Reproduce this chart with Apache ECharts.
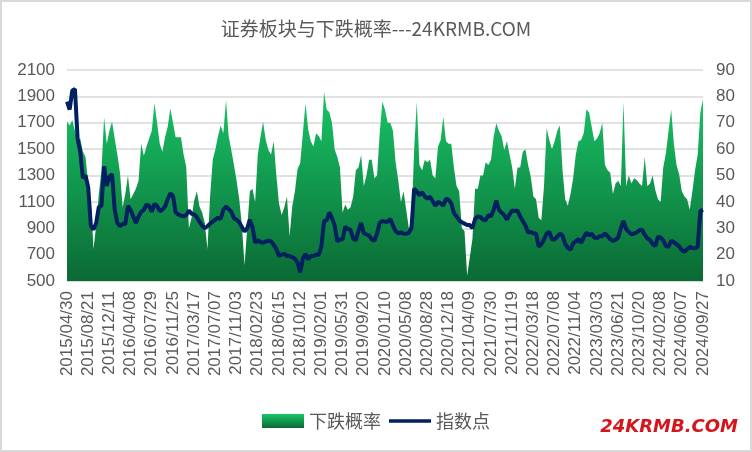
<!DOCTYPE html>
<html>
<head>
<meta charset="utf-8">
<script src="https://cdn.jsdelivr.net/npm/echarts@6/dist/echarts.min.js"></script>
<style>html,body{margin:0;padding:0;background:#fff}#c{width:752px;height:452px}</style>
</head>
<body>
<div id="c"></div>
<script>
// Tick labels (every 8th biweekly sample)
const labelDates = ['2015/04/30','2015/08/21','2015/12/11','2016/04/08','2016/07/29','2016/11/25','2017/03/17','2017/07/07','2017/11/03','2018/02/23','2018/06/15','2018/10/12','2019/02/01','2019/05/31','2019/09/20','2020/01/10','2020/05/08','2020/08/28','2020/12/18','2021/04/09','2021/07/30','2021/11/19','2022/03/18','2022/07/08','2022/11/04','2023/03/03','2023/06/21','2023/10/20','2024/02/08','2024/06/07','2024/09/27'];

// 下跌概率 (%), right axis
const fallProb = [70.4,69,71,67,63.5,64,59,57,47,41,22,31,43,52,72,62,67,70.5,64,58,51,38,43,50,41,43,45,48,62,57.5,61,64,67,77.5,70,62,59,64.5,68.5,75.5,
70,64.5,64.5,64.5,58,53.3,30,34,40.5,44,38.2,36,32,22,42,56,60,65,69,66,78.6,65,59.7,54,48,41,31,16,30,44,45,40,58,64.5,70.4,63.5,59.7,58,63,50,
39.4,35,38,42,27,38.2,44,52.5,54.6,66,77.4,67.5,63,61,66,65,63,81.8,75,74,70,60,57,53,36,39,37,38,42,52,53,57.8,46,50,56,56,49,50,66,78,
75,70,70,67,55,48.3,40,44,37,30,32,60,78,54,52,55.9,55,56,50,49,61,63.5,72.3,63,62,62,53,46,44,30,29,12,19,26,45,45,50,50,55,54,
56,64.7,69.8,67,65,59.7,63,58,53,45,53,53,59,60,54,49.6,42,41,34,33,46,68,63.5,60,63,67,69,52,41,38.5,43,49,58,63,63.5,66,75,74,68.5,63,
64,66,70,54,52,51,43,47,48,46,78,46,50,47,49,48.3,47,46,57,46,47,50,44.5,41,40,53,58.4,67,75,62,54,50.5,44,42,41,37,44,52,58,74,79];

// 指数点, left axis
const indexPts = [1860,1800,1945,1955,1580,1480,1280,1300,1210,920,890,940,1060,1070,1370,1220,1290,1310,1040,940,915,935,930,1070,1040,990,940,990,1025,1040,1080,1070,1025,1085,1070,1030,1040,1065,1120,1165,
1145,1020,1005,995,990,1000,1035,1010,1005,985,950,920,900,915,935,950,965,980,970,1040,1065,1045,1025,975,965,945,910,875,900,965,910,790,810,795,790,800,805,800,775,740,
690,700,705,690,690,680,670,640,565,670,705,665,690,690,700,700,760,955,962,1020,975,920,800,815,815,912,895,887,820,810,880,940,862,852,845,815,805,860,940,955,
950,950,970,920,878,862,868,860,858,865,900,1200,1180,1150,1175,1140,1125,1139,1105,1070,1100,1089,1070,1125,1115,1090,1015,990,960,945,935,925,925,900,970,990,985,965,960,1000,
990,1040,1110,1040,1018,1000,965,1005,1035,1030,1035,990,955,920,868,872,862,860,760,778,815,860,872,815,815,836,858,845,780,752,738,785,800,818,790,830,865,848,858,830,
825,840,840,862,840,818,805,812,830,900,955,895,872,855,860,868,885,890,850,825,810,780,765,835,830,808,765,760,805,795,780,762,735,722,740,758,750,748,760,1030,1040];

const leftTicks = {min: 500, max: 2100, step: 200};
const rightTicks = {min: 10, max: 90, step: 10};

function addDays(s, d) {
  const p = s.split('/').map(Number);
  const t = new Date(Date.UTC(p[0], p[1] - 1, p[2] + d));
  const mm = String(t.getUTCMonth() + 1).padStart(2, '0');
  const dd = String(t.getUTCDate()).padStart(2, '0');
  return t.getUTCFullYear() + '/' + mm + '/' + dd;
}
const categories = [];
for (let i = 0; i < labelDates.length - 1; i++) {
  for (let k = 0; k < 8; k++) categories.push(k === 0 ? labelDates[i] : addDays(labelDates[i], 14 * k));
}
categories.push(labelDates[labelDates.length - 1]);

const chart = echarts.init(document.getElementById('c'), null, {renderer: 'canvas'});
const grad = () => new echarts.graphic.LinearGradient(0, 0, 0, 1, [
  {offset: 0, color: '#19C467'}, {offset: 1, color: '#0B6A34'}]);
const txt = '#595959';
const numFont = 'Liberation Sans';

chart.setOption({
  animation: false,
  backgroundColor: '#fff',
  title: {
    text: '证券板块与下跌概率---24KRMB.COM', left: 'center', top: 14,
    textStyle: {fontSize: 19, fontWeight: 'normal', color: txt, fontFamily: 'Noto Sans CJK SC'}
  },
  grid: {left: 67, right: 49, top: 70, bottom: 171, containLabel: false},
  legend: {
    top: 407, left: 'center', itemWidth: 42, itemHeight: 14, itemGap: 8, symbolKeepAspect: true,
    textStyle: {fontSize: 18, color: txt, fontFamily: 'Noto Sans CJK SC'},
    data: [
      {name: '下跌概率', icon: 'rect', itemStyle: {color: grad()}},
      {name: '指数点', icon: 'path://M0,0 L44,0 L44,3.5 L0,3.5 Z', itemStyle: {color: '#002060'}}
    ]
  },
  xAxis: {
    type: 'category', data: categories, boundaryGap: false,
    axisTick: {show: false},
    axisLine: {lineStyle: {color: '#D9D9D9'}},
    axisLabel: {interval: 7, rotate: 90, color: txt, fontSize: 17, fontFamily: numFont, margin: 10}
  },
  yAxis: [
    {
      type: 'value', min: 0, max: leftTicks.max - leftTicks.min, interval: leftTicks.step,
      axisLabel: {formatter: v => String(v + leftTicks.min), color: txt, fontSize: 17, fontFamily: numFont, margin: 12},
      axisLine: {show: false}, axisTick: {show: false},
      splitLine: {lineStyle: {color: '#D9D9D9', width: 1.5}}
    },
    {
      type: 'value', position: 'right', min: rightTicks.min, max: rightTicks.max, interval: rightTicks.step,
      axisLabel: {color: txt, fontSize: 17, fontFamily: numFont, margin: 13},
      axisLine: {show: false}, axisTick: {show: false}, splitLine: {show: false}
    }
  ],
  series: [
    {
      name: '下跌概率', type: 'line', yAxisIndex: 1, data: fallProb,
      symbol: 'none', lineStyle: {width: 0}, itemStyle: {color: '#14A955'},
      areaStyle: {color: grad(), opacity: 1}, z: 1
    },
    {
      name: '指数点', type: 'line', yAxisIndex: 0, data: indexPts.map(v => v - leftTicks.min),
      symbol: 'none', lineStyle: {color: '#002060', width: 4}, itemStyle: {color: '#002060'}, z: 3
    }
  ],
  graphic: [
    {type: 'rect', silent: true, shape: {x: 1, y: 1, width: 750, height: 450},
     style: {fill: 'none', stroke: '#D9D9D9', lineWidth: 2}},
    {type: 'text', right: 14, top: 418, silent: true,
     style: {text: '24KRMB.COM', font: 'italic bold 18px "DejaVu Sans"', fill: '#D5151C'}}
  ]
});
</script>
</body>
</html>
